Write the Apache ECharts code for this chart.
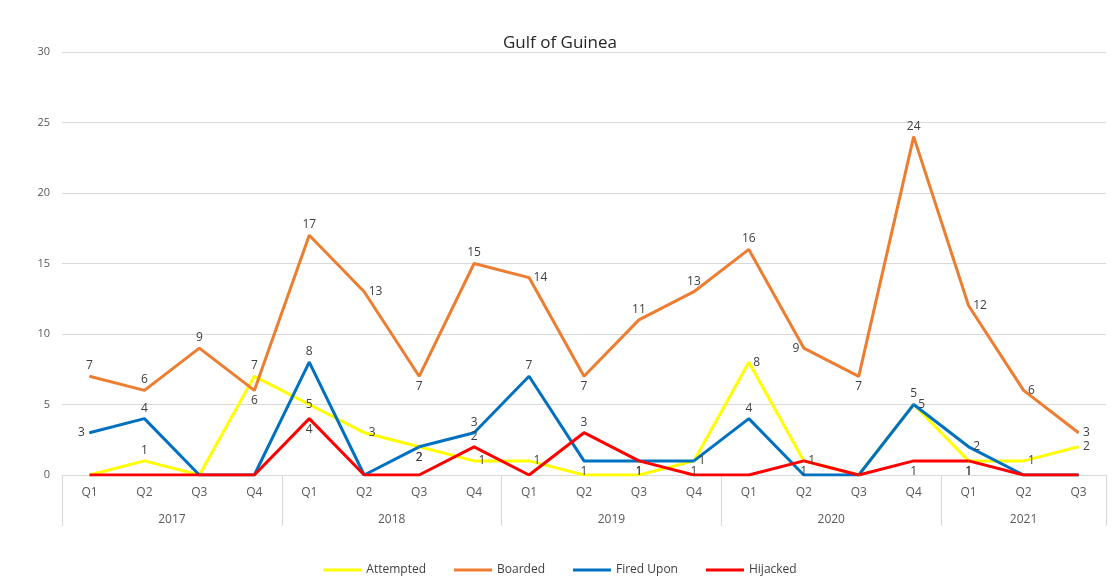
<!DOCTYPE html>
<html>
<head>
<meta charset="utf-8">
<script src="https://cdn.jsdelivr.net/npm/echarts@6/dist/echarts.min.js"></script>
<style>
    html, body { margin: 0; padding: 0; background: #fff; }
    #chart { width: 1120px; height: 587px; }
</style>
</head>
<body>
<div id="chart"></div>
<script>
// 数据
const quarters = ['Q1', 'Q2', 'Q3', 'Q4', 'Q1', 'Q2', 'Q3', 'Q4', 'Q1', 'Q2', 'Q3', 'Q4', 'Q1', 'Q2', 'Q3', 'Q4', 'Q1', 'Q2', 'Q3'];
const years = ['2017', '2018', '2019', '2020', '2021'];
const yearCenters = [2, 6, 10, 14, 17.5];
const yearBounds = [0, 4, 8, 12, 16, 19];

const attempted = [0, 1, 0, 7, 5, 3, 2, 1, 1, 0, 0, 1, 8, 1, 0, 5, 1, 1, 2];
const boarded = [7, 6, 9, 6, 17, 13, 7, 15, 14, 7, 11, 13, 16, 9, 7, 24, 12, 6, 3];
const firedUpon = [3, 4, 0, 0, 8, 0, 2, 3, 7, 1, 1, 1, 4, 0, 0, 5, 2, 0, 0];
const hijacked = [0, 0, 0, 0, 4, 0, 0, 2, 0, 3, 1, 0, 0, 1, 0, 1, 1, 0, 0];

// 标签位置 (null = 不显示)
const attemptedPos = [null, 'top', null, 'top', 'inside', 'right', 'bottom', 'right', 'right', null, null, 'right', 'right', 'bottom', null, 'right', 'bottom', 'right', 'right'];
const boardedPos = ['top', 'top', 'top', 'bottom', 'top', 'right', 'bottom', 'top', 'right', 'bottom', 'top', 'top', 'top', 'left', 'bottom', 'top', 'right', 'right', 'right'];
const firedPos = ['left', 'top', null, null, 'top', null, 'bottom', 'top', 'top', 'bottom', 'bottom', 'bottom', 'top', null, null, 'top', 'right', null, null];
const hijackedPos = [null, null, null, null, 'bottom', null, null, 'top', null, 'top', 'bottom', null, null, 'right', null, 'bottom', 'bottom', null, null];

// 构造带标签的数据
function withLabels(values, positions) {
    const result = [];
    for (let i = 0; i < values.length; i++) {
        const pos = positions[i];
        result.push({
            value: values[i],
            label: pos ? { show: true, position: pos } : { show: false }
        });
    }
    return result;
}

function lineSeries(name, color, values, positions) {
    return {
        name: name,
        type: 'line',
        data: withLabels(values, positions),
        symbol: 'circle',
        symbolSize: 1,
        showSymbol: true,
        lineStyle: { width: 3, color: color },
        itemStyle: { color: color },
        label: { show: true, color: '#404040', fontSize: 12, distance: 4 },
        emphasis: { disabled: true }
    };
}

const chart = echarts.init(document.getElementById('chart'));

const option = {
    backgroundColor: '#ffffff',
    animation: false,
    textStyle: { fontFamily: 'Open Sans' },
    title: {
        text: 'Gulf of Guinea',
        left: 'center',
        top: 30,
        textStyle: { color: '#262626', fontSize: 17, fontWeight: 'normal', fontFamily: 'Open Sans' }
    },
    legend: {
        bottom: 6,
        left: 'center',
        itemWidth: 38,
        itemHeight: 3,
        itemGap: 28,
        icon: 'rect',
        textStyle: { color: '#404040', fontSize: 12 },
        data: ['Attempted', 'Boarded', 'Fired Upon', 'Hijacked']
    },
    grid: {
        left: 62,
        right: 14,
        top: 52,
        bottom: 112
    },
    xAxis: [
        {
            type: 'category',
            data: quarters,
            boundaryGap: true,
            axisLine: { lineStyle: { color: '#d9d9d9', width: 1 } },
            axisTick: { show: false },
            axisLabel: { color: '#595959', fontSize: 12, margin: 12, interval: 0 }
        },
        {
            type: 'value',
            position: 'bottom',
            min: 0,
            max: 19,
            axisLine: { show: false },
            splitLine: { show: false },
            axisTick: {
                show: true,
                customValues: yearBounds,
                length: 51,
                lineStyle: { color: '#d9d9d9', width: 1 }
            },
            axisLabel: {
                customValues: yearCenters,
                color: '#595959',
                fontSize: 12,
                margin: 39,
                formatter: function(v) {
                    const i = yearCenters.indexOf(v);
                    return i >= 0 ? years[i] : '';
                }
            }
        }
    ],
    yAxis: {
        type: 'value',
        min: 0,
        max: 30,
        interval: 5,
        axisLine: { show: false },
        axisTick: { show: false },
        splitLine: { lineStyle: { color: '#d9d9d9', width: 1 } },
        axisLabel: { color: '#595959', fontSize: 11, margin: 12 }
    },
    series: [
        lineSeries('Attempted', '#ffff00', attempted, attemptedPos),
        lineSeries('Boarded', '#ed7d31', boarded, boardedPos),
        lineSeries('Fired Upon', '#0070c0', firedUpon, firedPos),
        lineSeries('Hijacked', '#ff0000', hijacked, hijackedPos)
    ]
};

chart.setOption(option);
</script>
</body>
</html>
